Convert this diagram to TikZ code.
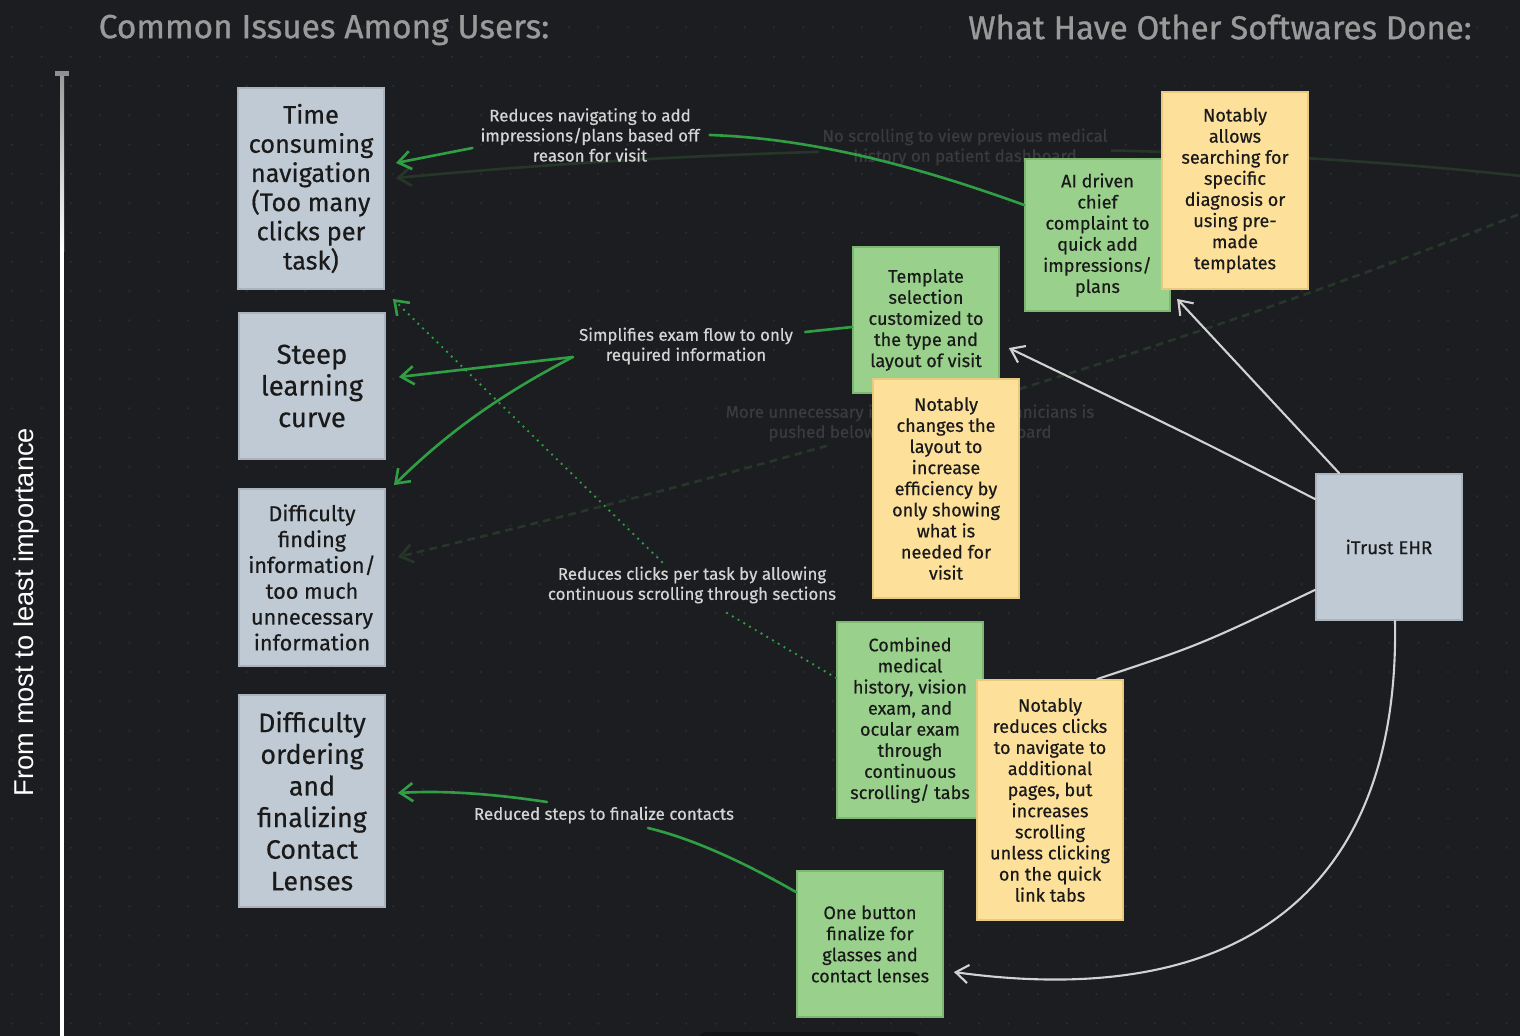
\documentclass[tikz,border=0pt]{standalone}
\usepackage{fontspec}
\setmainfont{Fira Sans}
\newfontfamily\hand{Fira Sans}[FakeBold=0.5]
\newfontfamily\head{Fira Sans}[FakeBold=0.8]
\newfontfamily\axfont{Liberation Sans}
\usetikzlibrary{arrows.meta}
\pgfdeclarelayer{back}
\pgfdeclarelayer{faint}
\pgfsetlayers{back,faint,main}
\definecolor{bgc}{HTML}{1C1D20}
\definecolor{dotc}{HTML}{2C2D31}
\definecolor{hdc}{HTML}{9A9A9A}
\definecolor{issuefill}{HTML}{C0CAD4}
\definecolor{issueedge}{HTML}{A9B4BE}
\definecolor{greenfill}{HTML}{99D18C}
\definecolor{greenedge}{HTML}{7DB872}
\definecolor{yellowfill}{HTML}{FDE09A}
\definecolor{yellowedge}{HTML}{E9C97E}
\definecolor{conngreen}{HTML}{2F9E44}
\definecolor{conngray}{HTML}{D2D2D2}
\definecolor{labelc}{HTML}{D4D4D4}
\definecolor{faintc}{HTML}{3A3B3F}
\definecolor{faintline}{HTML}{263629}
\definecolor{boxtext}{HTML}{1A1A1A}
\definecolor{barc}{HTML}{131315}
\begin{document}
\begin{tikzpicture}[x=0.01cm,y=-0.01cm,
  tip/.style={-{Straight Barb[length=3.6pt,width=5.2pt]}},
  gconn/.style={draw=conngreen, line width=0.75pt, line cap=round},
  wconn/.style={draw=conngray, line width=0.6pt, line cap=round},
  fconn/.style={draw=faintline, line width=0.75pt},
  sq/.style={inner sep=0pt, align=center, text=boxtext, line width=0.5pt},
  issue/.style={sq, fill=issuefill, draw=issueedge, minimum width=1.46cm},
  soft/.style={sq, fill=greenfill, draw=greenedge, minimum width=1.46cm, font=\hand\fontsize{5.15}{6}\selectfont},
  note/.style={sq, fill=yellowfill, draw=yellowedge, minimum width=1.46cm, font=\hand\fontsize{5.15}{6}\selectfont},
  lbl/.style={align=center, text=labelc, inner sep=1pt, font=\hand\fontsize{4.8}{5.7}\selectfont},
  flbl/.style={align=center, text=faintc, fill=bgc, inner sep=1pt, font=\hand\fontsize{4.8}{5.7}\selectfont},
]
\useasboundingbox (0,0) rectangle (1520,1036);
\begin{pgfonlayer}{back}
\fill[bgc] (0,0) rectangle (1520,1036);
\foreach \i in {0,...,51}{\foreach \j in {0,...,35}{\fill[dotc] (12.3+29.3*\i,27.4+29.3*\j) circle[radius=0.35pt];}}
\fill[barc, rounded corners=0.1cm] (697,1032) rectangle (921,1060);
\end{pgfonlayer}

% axis
\fill[white] (60,250) rectangle (64,1040);
\shade[top color=hdc, bottom color=white] (60,74) rectangle (64,251);
\fill[hdc!110] (55,71) rectangle (69,76);
\node[rotate=90, text=white, font=\axfont\fontsize{7.75}{8}\selectfont] (axlabel) at (26,612) {From most to least importance};

% headers
\node[text=hdc, font=\head\fontsize{9.5}{11}\selectfont] (h1) at (324,30) {Common Issues Among Users:};
\node[text=hdc, font=\head\fontsize{9.4}{11}\selectfont] (h2) at (1220,27) {What Have Other Softwares Done:};

% issue boxes
\node[issue, minimum height=2.01cm, font=\hand\fontsize{7.2}{8.3}\selectfont] (b1) at (311,188.5) {Time\\consuming\\navigation\\(Too many\\clicks per\\task)};
\node[issue, minimum height=1.46cm, font=\hand\fontsize{7.8}{9}\selectfont] (b2) at (312,386) {Steep\\learning\\curve};
\node[issue, minimum height=1.77cm, font=\hand\fontsize{6.15}{7.35}\selectfont] (b3) at (312,577.5) {Difficulty\\finding\\information/\\too much\\unnecessary\\information};
\node[issue, minimum height=2.12cm, font=\hand\fontsize{7.6}{9}\selectfont] (b4) at (312,801) {Difficulty\\ordering\\and\\finalizing\\Contact\\Lenses};

% software boxes
\node[soft, minimum width=1.45cm, minimum height=1.52cm] (ai) at (1097.5,235) {AI driven\\chief\\complaint to\\quick add\\impressions/\\plans};
\node[soft, minimum height=1.46cm] (tmpl) at (926,320) {Template\\selection\\customized to\\the type and\\layout of visit};
\node[soft, minimum height=1.96cm] (comb) at (910,720) {Combined\\medical\\history, vision\\exam, and\\ocular exam\\through\\continuous\\scrolling/ tabs};
\node[soft, minimum height=1.46cm] (one) at (870,944) {One button\\finalize for\\glasses and\\contact lenses};
\node[note, minimum height=1.97cm] (yallow) at (1235,190.5) {Notably\\allows\\searching for\\specific\\diagnosis or\\using pre-\\made\\templates};
\node[note, minimum height=2.19cm] (ychange) at (946,488.5) {Notably\\changes the\\layout to\\increase\\efficiency by\\only showing\\what is\\needed for\\visit};
\node[note, minimum height=2.40cm] (yreduce) at (1050,800) {Notably\\reduces clicks\\to navigate to\\additional\\pages, but\\increases\\scrolling\\unless clicking\\on the quick\\link tabs};
\node[issue, minimum height=1.46cm, font=\hand\fontsize{5.3}{6}\selectfont] (itrust) at (1389,547) {iTrust EHR};

% faint connectors and labels
\begin{pgfonlayer}{faint}
\coordinate (fr1) at (1530,177);
\coordinate (fr2) at (1530,210);
\draw[fconn, tip] (fr1) .. controls (1200,140) and (800,140) .. ([xshift=0.11cm,yshift=0.105cm]b1.east);
\draw[fconn, tip, dash pattern=on 2.2pt off 1.5pt] (fr2) .. controls (1150,360) and (800,460) .. ([xshift=0.12cm,yshift=0.205cm]b3.east);
\node[flbl] (lf1) at (965,147) {No scrolling to view previous medical\\history on patient dashboard};
\node[flbl] (lf2) at (910,423) {More unnecessary information for technicians is\\pushed below the patient dashboard};
\end{pgfonlayer}

% labels
\node[lbl] (la) at (590,135) {Reduces navigating to add\\impressions/plans based off\\reason for visit};
\node[lbl] (ls) at (686,346) {Simplifies exam flow to only\\required information};
\node[lbl] (ld) at (692,585) {Reduces clicks per task by allowing\\continuous scrolling through sections};
\node[lbl] (lc) at (604,815) {Reduced steps to finalize contacts};

% green connectors
\draw[gconn] ([yshift=0.3cm]ai.west) .. controls (900,160) and (800,138) .. ([xshift=0.06cm]la.east);
\draw[gconn, tip] ([xshift=-0.04cm,yshift=-0.13cm]la.west) -- ([xshift=0.11cm,yshift=0.255cm]b1.east);
\draw[gconn] ([yshift=-0.07cm]tmpl.west) -- ([xshift=0.08cm,yshift=0.14cm]ls.east);
\draw[gconn, tip] ([xshift=-0.02cm,yshift=-0.11cm]ls.west) -- ([xshift=0.13cm,yshift=0.09cm]b2.east);
\draw[gconn, tip] ([xshift=-0.02cm,yshift=-0.11cm]ls.west) .. controls (490,400) and (440,440) .. ([xshift=0.08cm,yshift=0.03cm]b3.north east);
\draw[gconn, dash pattern=on 0pt off 1.9pt] ([yshift=0.42cm]comb.west) -- ([xshift=0.3cm,yshift=-0.25cm]ld.center);
\draw[gconn, tip, dash pattern=on 0pt off 1.9pt] ([xshift=-0.3cm,yshift=0.23cm]ld.center) -- ([xshift=0.08cm,yshift=-0.09cm]b1.south east);
\draw[gconn] ([yshift=-0.22cm]one.north west) .. controls (740,860) and (690,838) .. ([xshift=0.44cm,yshift=-0.13cm]lc.center);
\draw[gconn, tip] ([xshift=-0.57cm,yshift=0.13cm]lc.center) .. controls (500,795) and (450,790) .. ([xshift=0.12cm,yshift=0.08cm]b4.east);

% gray connectors from iTrust
\draw[wconn, tip] ([xshift=0.24cm]itrust.north west) -- ([xshift=0.16cm,yshift=-0.09cm]yallow.south west);
\draw[wconn, tip] ([yshift=-0.26cm]itrust.north west) .. controls (1200,440) .. ([xshift=0.09cm,yshift=-0.28cm]tmpl.east);
\draw[wconn] ([yshift=0.31cm]itrust.south west) .. controls (1200,645) .. ([xshift=1.21cm]yreduce.north west);
\draw[wconn, tip] ([xshift=0.06cm]itrust.south) .. controls (1400,900) and (1230,1010) .. ([xshift=0.1cm,yshift=-0.28cm]one.east);
\end{tikzpicture}
\end{document}
